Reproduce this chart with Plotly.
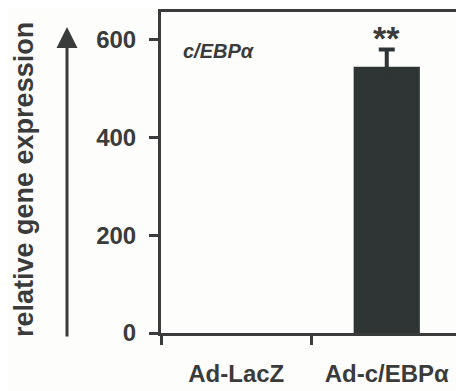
import plotly.graph_objects as go

categories = ["Ad-LacZ", "Ad-c/EBPα"]
values = [0, 545]
errors = [0, 35]
y_ticks = [0, 200, 400, 600]
gene_label = "c/EBPα"
y_title = "relative gene expression"
significance = ["", "**"]

ink = "#3a3b3b"
bar_col = "#2f3535"
OFF = 8  # page body margin offset
W, H = 464 - OFF, 391 - OFF
L, R, T, B = 161 - OFF, 2, 12 - OFF, 58
pw = W - L - R
ph = H - T - B
FONT = "Liberation Sans, Arial, sans-serif"

fig = go.Figure()
fig.add_trace(go.Bar(
    x=categories, y=values, width=0.44,
    marker=dict(color=bar_col, line=dict(width=0)),
))
err_x = [c for c, e in zip(categories, errors) if e > 0]
err_y = [v for v, e in zip(values, errors) if e > 0]
err_e = [e for e in errors if e > 0]
fig.add_trace(go.Scatter(
    x=err_x, y=err_y, mode="markers", marker=dict(size=1, opacity=0),
    error_y=dict(type="data", array=err_e, visible=True,
                 color=bar_col, thickness=4, width=8),
    hoverinfo="skip",
))

fig.update_layout(
    width=W, height=H,
    margin=dict(l=L, r=R, t=T, b=B, autoexpand=False),
    paper_bgcolor="#fdfdfb", plot_bgcolor="#fdfdfb",
    showlegend=False,
    font=dict(family=FONT, color=ink),
)
fig.update_xaxes(
    range=[-0.5, 1.5], showline=True, linecolor=ink, linewidth=3, mirror=True,
    ticks="outside", tickson="boundaries", ticklen=9, tickwidth=3, tickcolor=ink,
    tickfont=dict(size=24, color=ink, family=FONT, weight="bold"),
    ticklabelstandoff=17, showgrid=False, zeroline=False, automargin=False,
)
fig.update_yaxes(
    range=[0, 657], tickvals=y_ticks, ticktext=[str(v) for v in y_ticks],
    showline=True, linecolor=ink, linewidth=3, mirror=True,
    ticks="outside", ticklen=9, tickwidth=3, tickcolor=ink,
    tickfont=dict(size=24, color=ink, family=FONT, weight="bold"),
    ticklabelstandoff=8, showgrid=False, zeroline=False, automargin=False,
)

# significance stars above error bars
for c, v, e, s in zip(categories, values, errors, significance):
    if s:
        fig.add_annotation(x=c, y=v + e, text="<b>" + s + "</b>", showarrow=False,
                           yanchor="bottom", yshift=-9, font=dict(size=34, color=ink))

# gene label
fig.add_annotation(xref="paper", yref="paper", x=(181 - 161) / pw, y=1 - (51 - 12) / ph,
                   text="<b><i>" + gene_label + "</i></b>", showarrow=False,
                   xanchor="left", yanchor="middle", font=dict(size=20, color=ink))

# y axis title with arrow
fig.add_annotation(xref="paper", yref="paper", x=(24 - 161) / pw, y=1 - (180 - 12) / ph,
                   text="<b>" + y_title + "</b>", textangle=-90, showarrow=False,
                   xanchor="center", yanchor="middle", font=dict(size=27, color=ink))
fig.add_annotation(xref="paper", yref="paper", x=(67 - 161) / pw, y=1 - (27 - 12) / ph,
                   ax=0, ay=311, text="", showarrow=True, arrowhead=2, arrowsize=1.4,
                   arrowwidth=3, arrowcolor=ink)

fig.write_html("out.html")
